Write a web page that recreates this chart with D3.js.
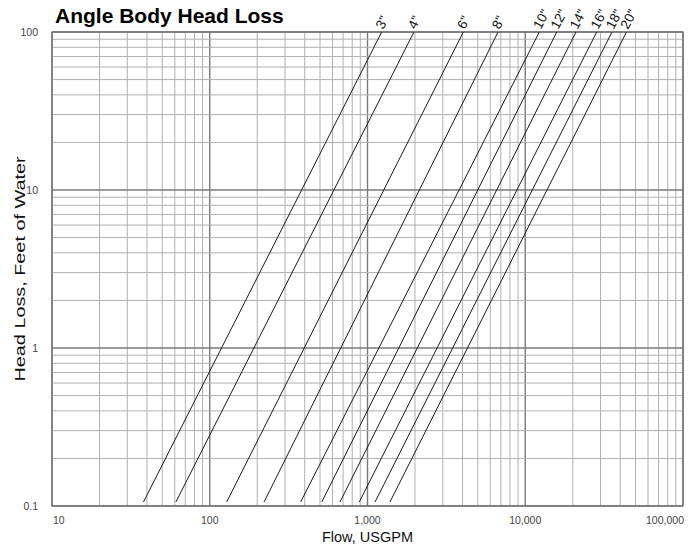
<!DOCTYPE html>
<html>
<head>
<meta charset="utf-8">
<script src="https://cdn.jsdelivr.net/npm/d3@7"></script>
<style>
  body { margin: 0; background: #fff; }
  text { font-family: "Liberation Sans", Arial, sans-serif; }
</style>
</head>
<body>
<div id="chart"></div>
<script>
// pipe sizes and the two end points of each head loss line
const sizes = ['3"', '4"', '6"', '8"', '10"', '12"', '14"', '16"', '18"', '20"'];
const flowLow = [38, 61, 128, 221, 377, 513, 669, 887, 1116, 1388];
const flowHigh = [1230, 1970, 4050, 6720, 12280, 15830, 20980, 28370, 35460, 43830];
const headLow = 0.106;
const headHigh = 100;

const xTicks = [10, 100, 1000, 10000, 100000];
const yTicks = [0.1, 1, 10, 100];

const width = 700, height = 550;
const margin = {top: 32, right: 17, bottom: 44, left: 52};

const svg = d3.select("#chart").append("svg")
    .attr("width", width)
    .attr("height", height);

const x = d3.scaleLog().domain([10, 100000]).range([margin.left, width - margin.right]);
const y = d3.scaleLog().domain([0.1, 100]).range([height - margin.bottom, margin.top]);

// grid: every 1..9 step inside each decade
const xGrid = [], yGrid = [];
for (let d = 10; d < 100000; d *= 10) for (let k = 1; k < 10; k++) xGrid.push(d * k);
xGrid.push(100000);
for (let d = 0.1; d < 100; d *= 10) for (let k = 1; k < 10; k++) yGrid.push(+(d * k).toPrecision(3));
yGrid.push(100);

const isDecade = v => Math.abs(Math.log10(v) - Math.round(Math.log10(v))) < 1e-6;

const grid = svg.append("g");
grid.selectAll(".vx")
    .data(xGrid)
    .enter().append("line")
    .attr("x1", d => x(d)).attr("x2", d => x(d))
    .attr("y1", y(0.1)).attr("y2", y(100))
    .attr("stroke", d => isDecade(d) ? "#7a7a7a" : "#b0b0b0")
    .attr("stroke-width", d => isDecade(d) ? 1.4 : 1);

grid.selectAll(".hy")
    .data(yGrid)
    .enter().append("line")
    .attr("y1", d => y(d)).attr("y2", d => y(d))
    .attr("x1", x(10)).attr("x2", x(100000))
    .attr("stroke", d => isDecade(d) ? "#7a7a7a" : "#b0b0b0")
    .attr("stroke-width", d => isDecade(d) ? 1.4 : 1);

svg.append("rect")
    .attr("x", x(10)).attr("y", y(100))
    .attr("width", x(100000) - x(10))
    .attr("height", y(0.1) - y(100))
    .attr("fill", "none")
    .attr("stroke", "#707070")
    .attr("stroke-width", 1.2);

// head loss lines
const lines = sizes.map((s, i) => ({
    size: s,
    pts: [[flowLow[i], headLow], [flowHigh[i], headHigh]]
}));

const line = d3.line().x(d => x(d[0])).y(d => y(d[1]));

svg.selectAll(".loss")
    .data(lines)
    .enter().append("path")
    .attr("class", "loss")
    .attr("d", d => line(d.pts))
    .attr("fill", "none")
    .attr("stroke", "#1a1a1a")
    .attr("stroke-width", 1);

svg.selectAll(".size")
    .data(lines)
    .enter().append("text")
    .attr("transform", d => "translate(" + (x(d.pts[1][0]) + 1.5) + "," + (y(100) - 2) + ") rotate(-62)")
    .attr("font-size", 13.5)
    .attr("fill", "#111")
    .text(d => d.size);

// tick labels
svg.selectAll(".xt")
    .data(xTicks)
    .enter().append("text")
    .attr("x", (d, i) => i === 0 ? x(d) + 1 : i === xTicks.length - 1 ? x(d) + 1 : x(d))
    .attr("y", height - margin.bottom + 18)
    .attr("text-anchor", (d, i) => i === 0 ? "start" : i === xTicks.length - 1 ? "end" : "middle")
    .attr("font-size", 10.5)
    .attr("fill", "#444")
    .text(d => d3.format(",")(d));

svg.selectAll(".yt")
    .data(yTicks)
    .enter().append("text")
    .attr("x", margin.left - 14)
    .attr("y", d => y(d))
    .attr("dy", "0.35em")
    .attr("text-anchor", "end")
    .attr("font-size", 10.5)
    .attr("fill", "#444")
    .text(d => d);

// titles
svg.append("text")
    .attr("x", 55)
    .attr("y", 23)
    .attr("font-size", 21)
    .attr("font-weight", "bold")
    .attr("fill", "#000")
    .text("Angle Body Head Loss");

svg.append("text")
    .attr("x", (x(10) + x(100000)) / 2)
    .attr("y", height - 8)
    .attr("text-anchor", "middle")
    .attr("font-size", 14.5)
    .attr("fill", "#111")
    .text("Flow, USGPM");

svg.append("text")
    .attr("transform", "translate(25," + ((y(0.1) + y(100)) / 2) + ") rotate(-90)")
    .attr("text-anchor", "middle")
    .attr("font-size", 15)
    .attr("textLength", 225)
    .attr("lengthAdjust", "spacingAndGlyphs")
    .attr("fill", "#111")
    .text("Head Loss, Feet of Water");
</script>
</body>
</html>
